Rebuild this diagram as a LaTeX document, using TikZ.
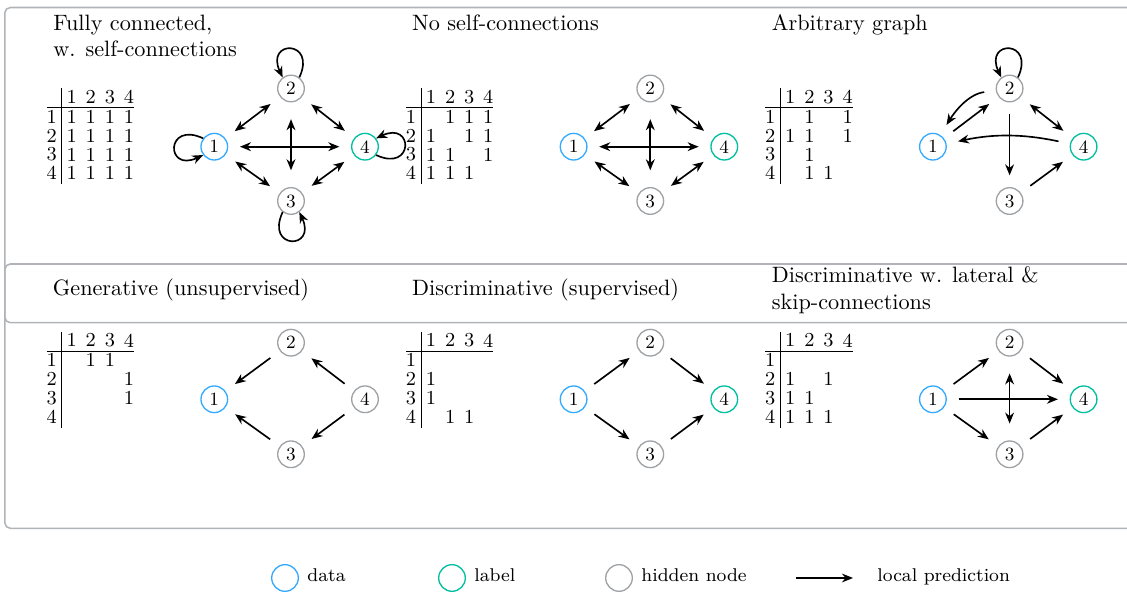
\documentclass[tikz,border=0pt]{standalone}
\usetikzlibrary{arrows.meta,calc}
\definecolor{datac}{RGB}{51,170,255}
\definecolor{labelc}{RGB}{0,190,160}
\definecolor{hidc}{RGB}{158,162,166}
\definecolor{framec}{RGB}{176,180,185}
\newcommand\myloop[2]{%
  \draw[lp] ($(#1)+(#2-37:6.3pt)$) .. controls +(#2-25:19pt) and +(#2+25:19pt) .. ($(#1)+(#2+37:6.3pt)$);}
\newcommand\mtx[4]{%
  \draw[mline] (61.7+#2,88+#3) -- (61.7+#2,184+#3);
  \draw[mline] (46.7+#2,107.7+#3) -- (134+#2,107.7+#3);
  \foreach \mk/\mx in {1/71.7,2/90.8,3/109.9,4/129} {\node[mtxt] (#1h\mk) at (\mx+#2,96.7+#3) {\mk};}
  \foreach \mk/\my in {1/116.7,2/135.6,3/154.5,4/173.3} {\node[mtxt] (#1r\mk) at (51.7+#2,\my+#3) {\mk};}
  \foreach \mr/\mc in {#4} {\node[mtxt] (#1e\mr\mc) at ({71.7+(\mc-1)*19.1+#2},{116.7+(\mr-1)*18.87+#3}) {1};}
}
\begin{document}
\begin{tikzpicture}[x=0.4545pt,y=-0.4545pt,
  >={Stealth[length=5pt,width=4pt,inset=1.6pt]},
  nd/.style={circle,draw=hidc,line width=0.6pt,minimum size=12.1pt,inner sep=0pt,font=\fontsize{8.5}{10}\selectfont},
  dnd/.style={nd,draw=datac},
  lnd/.style={nd,draw=labelc},
  ed/.style={->,line width=0.75pt,shorten >=5.3pt,shorten <=5.3pt},
  bd/.style={ed,<->},
  vd/.style={<->,line width=0.75pt,shorten >=7.6pt,shorten <=7.6pt},
  lp/.style={->,line width=0.75pt},
  mtxt/.style={inner sep=0pt,font=\fontsize{9}{10}\selectfont},
  mline/.style={line width=0.45pt},
  ttl/.style={anchor=base west,inner sep=0pt,font=\fontsize{10.1}{12}\selectfont},
  lgt/.style={anchor=base west,inner sep=0pt,font=\fontsize{8.4}{10}\selectfont},
  frm/.style={draw=framec,line width=0.7pt,rounded corners=2.5pt}]
\useasboundingbox (0,0) rectangle (1127,594);
\clip (0,0) rectangle (1127,594);
% frames
\draw[frm] (4.8,7.5) rectangle (1150,528.3);
\draw[frm] (4.8,264) rectangle (1150,322.7);
% titles
\node[ttl] (t1a) at (53,31) {Fully connected,};
\node[ttl] (t1b) at (53,56.8) {w. self-connections};
\node[ttl] (t2) at (411.7,31) {No self-connections};
\node[ttl] (t3) at (771.5,31) {Arbitrary graph};
\node[ttl] (t4) at (52.5,296) {Generative (unsupervised)};
\node[ttl] (t5) at (411.7,296) {Discriminative (supervised)};
\node[ttl] (t6a) at (771.5,283) {Discriminative w. lateral \&};
\node[ttl] (t6b) at (771.5,309.3) {skip-connections};
% matrices
\mtx{ma}{0}{0}{1/1,1/2,1/3,1/4,2/1,2/2,2/3,2/4,3/1,3/2,3/3,3/4,4/1,4/2,4/3,4/4}
\mtx{mb}{359.3}{0}{1/2,1/3,1/4,2/1,2/3,2/4,3/1,3/2,3/4,4/1,4/2,4/3}
\mtx{mc}{718.6}{0}{1/2,1/4,2/1,2/2,2/4,3/2,4/2,4/3}
\mtx{md}{0}{243.7}{1/2,1/3,2/4,3/4}
\mtx{me}{359.3}{243.7}{2/1,3/1,4/2,4/3}
\mtx{mf}{718.6}{243.7}{2/1,2/3,3/1,3/2,4/1,4/2,4/3}
% panel A
\node[dnd] (a1) at (214.3,146.7) {1};
\node[nd]  (a2) at (291,88.5) {2};
\node[nd]  (a3) at (291,201) {3};
\node[lnd] (a4) at (365,146.7) {4};
\draw[bd] (a1) -- (a2);
\draw[bd] (a2) -- (a4);
\draw[bd] (a1) -- (a3);
\draw[bd] (a3) -- (a4);
\draw[bd] (a1) -- (a4);
\draw[vd] (a2) -- (a3);
\myloop{a2}{90}
\myloop{a1}{180}
\myloop{a3}{270}
\myloop{a4}{0}
% panel B
\node[dnd] (b1) at (573.6,146.7) {1};
\node[nd]  (b2) at (650.3,88.5) {2};
\node[nd]  (b3) at (650.3,201) {3};
\node[lnd] (b4) at (724.3,146.7) {4};
\draw[bd] (b1) -- (b2);
\draw[bd] (b2) -- (b4);
\draw[bd] (b1) -- (b3);
\draw[bd] (b3) -- (b4);
\draw[bd] (b1) -- (b4);
\draw[vd] (b2) -- (b3);
% panel C
\node[dnd] (c1) at (932.9,146.7) {1};
\node[nd]  (c2) at (1009.6,88.5) {2};
\node[nd]  (c3) at (1009.6,201) {3};
\node[lnd] (c4) at (1083.6,146.7) {4};
\myloop{c2}{90}
\draw[ed] (c1) -- (c2);
\draw[ed] (c2) to[out=188,in=58] (c1);
\draw[bd] (c2) -- (c4);
\draw[ed] (c2) -- (c3);
\draw[ed] (c4) to[bend right=12] (c1);
\draw[ed] (c3) -- (c4);
% panel D
\node[dnd] (d1) at (214.3,399.3) {1};
\node[nd]  (d2) at (291,342.7) {2};
\node[nd]  (d3) at (291,454.3) {3};
\node[nd]  (d4) at (365,399.3) {4};
\draw[ed] (d2) -- (d1);
\draw[ed] (d3) -- (d1);
\draw[ed] (d4) -- (d2);
\draw[ed] (d4) -- (d3);
% panel E
\node[dnd] (e1) at (573.6,399.3) {1};
\node[nd]  (e2) at (650.3,342.7) {2};
\node[nd]  (e3) at (650.3,454.3) {3};
\node[lnd] (e4) at (724.3,399.3) {4};
\draw[ed] (e1) -- (e2);
\draw[ed] (e1) -- (e3);
\draw[ed] (e2) -- (e4);
\draw[ed] (e3) -- (e4);
% panel F
\node[dnd] (f1) at (932.9,399.3) {1};
\node[nd]  (f2) at (1009.6,342.7) {2};
\node[nd]  (f3) at (1009.6,454.3) {3};
\node[lnd] (f4) at (1083.6,399.3) {4};
\draw[ed] (f1) -- (f2);
\draw[ed] (f1) -- (f3);
\draw[ed] (f2) -- (f4);
\draw[ed] (f3) -- (f4);
\draw[ed] (f1) -- (f4);
\draw[vd] (f2) -- (f3);
% legend
\node[dnd] (lg1) at (285,578) {};
\node[lgt] (lt1) at (307,582) {data};
\node[lnd] (lg2) at (452,578) {};
\node[lgt] (lt2) at (474,582) {label};
\node[nd]  (lg3) at (619,578) {};
\node[lgt] (lt3) at (641,582) {hidden node};
\coordinate (la) at (796,578);
\coordinate (lb) at (853,578);
\draw[->,line width=0.75pt] (la) -- (lb);
\node[lgt] (lt4) at (877,582) {local prediction};
\end{tikzpicture}
\end{document}
